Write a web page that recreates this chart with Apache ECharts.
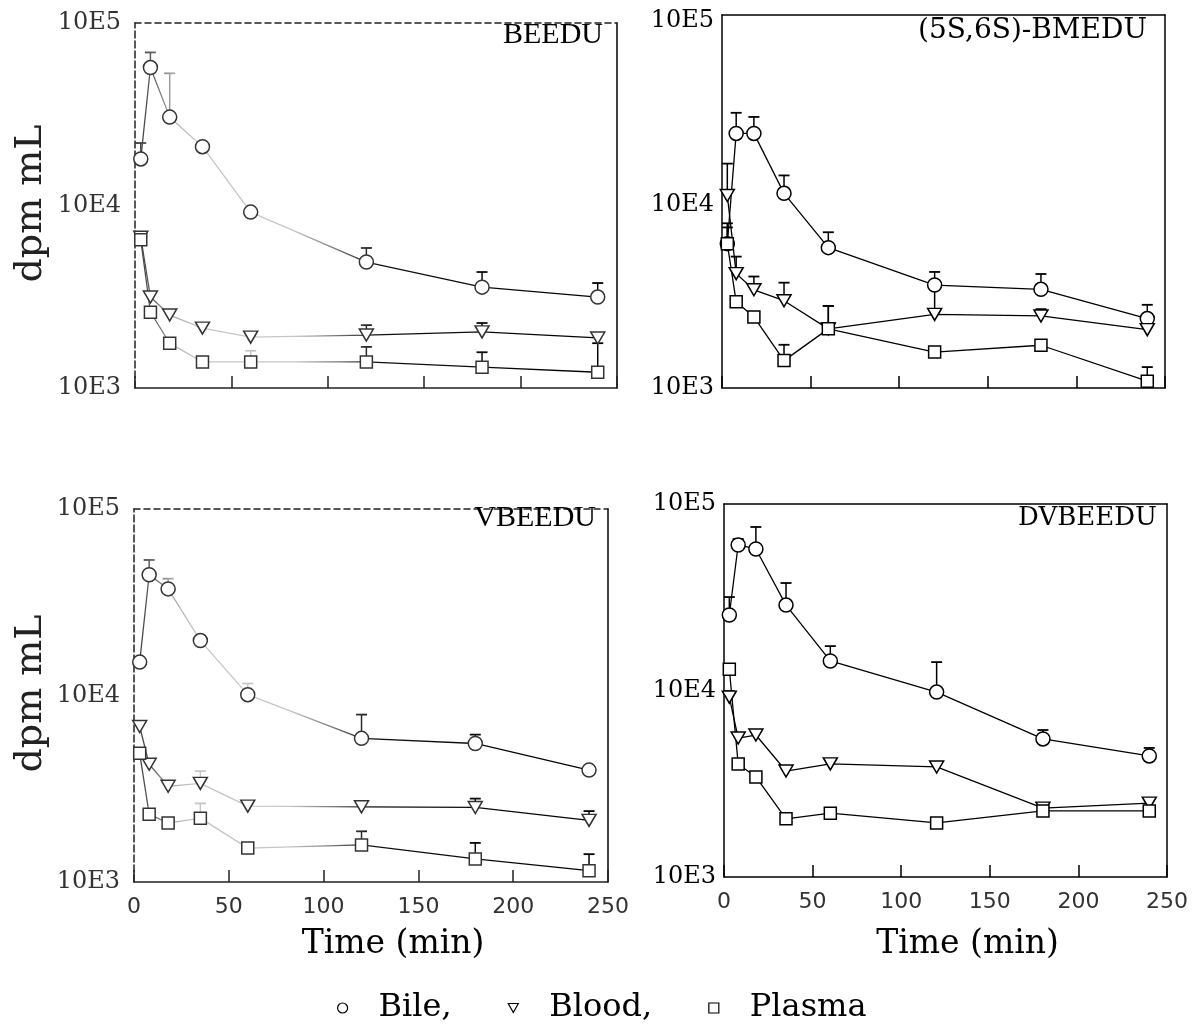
<!DOCTYPE html>
<html>
<head>
<meta charset="utf-8">
<script src="https://cdn.jsdelivr.net/npm/echarts@6/dist/echarts.min.js"></script>
<style>
  html, body { margin: 0; padding: 0; background: #fff; }
  #chart { width: 1199px; height: 1032px; }
</style>
</head>
<body>
<div id="chart"></div>
<script>
// Sampling times (min), shared by every panel
const TIMES = [3, 8, 18, 35, 60, 120, 180, 240];
const X_TICK_LABELS = ['0', '50', '100', '150', '200', '250'];
const Y_TICK_LABELS = { 3: '10E3', 4: '10E4', 5: '10E5' };
const GROUPS = ['Bile', 'Blood', 'Plasma'];

// BEEDU  (dpm/mL, mean and top of the error bar)
const beeduBile      = [18000, 57000, 30500, 21000, 9200, 4900, 3570, 3150];
const beeduBileErr   = [22000, 69000, 53000, null, null, 5850, 4320, 3760];
const beeduBlood     = [6700, 3150, 2510, 2130, 1900, 1950, 2030, 1880];
const beeduBloodErr  = [null, null, null, null, null, 2210, 2270, 2000];
const beeduPlasma    = [6500, 2600, 1760, 1390, 1390, 1390, 1300, 1220];
const beeduPlasmaErr = [null, null, null, null, 1600, 1680, 1570, 1760];

// (5S,6S)-BMEDU
const bmeduBile      = [6120, 24400, 24400, 11500, 5820, 3640, 3450, 2390];
const bmeduBileErr   = [7900, 31600, 30000, 14400, 7060, 4290, 4180, 2840];
const bmeduBlood     = [11200, 4200, 3430, 2990, 2100, 2520, 2470, 2080];
const bmeduBloodErr  = [16700, 5200, 4050, 3750, 2800, 3500, 2690, null];
const bmeduPlasma    = [6120, 2950, 2440, 1410, 2100, 1570, 1710, 1090];
const bmeduPlasmaErr = [7500, null, null, 1720, 2800, null, null, 1300];

// VBEEDU
const vbeeduBile      = [15100, 44400, 37300, 19700, 10100, 5890, 5530, 3980];
const vbeeduBileErr   = [null, 53300, 42300, null, 11600, 7900, 6170, null];
const vbeeduBlood     = [6820, 4280, 3260, 3380, 2550, 2530, 2510, 2140];
const vbeeduBloodErr  = [null, null, null, 3930, null, null, 2800, 2400];
const vbeeduPlasma    = [4900, 2310, 2070, 2200, 1520, 1580, 1330, 1150];
const vbeeduPlasmaErr = [null, null, null, 2640, null, 1870, 1620, 1410];

// DVBEEDU
const dvbeeduBile      = [25400, 60300, 57400, 28700, 14400, 9810, 5500, 4460];
const dvbeeduBileErr   = [31700, 64900, 75300, 37700, 17300, 14200, 6140, 4920];
const dvbeeduBlood     = [9220, 5560, 5770, 3700, 4040, 3890, 2340, 2490];
const dvbeeduBloodErr  = [9930, null, null, null, null, null, null, null];
const dvbeeduPlasma    = [13000, 4040, 3440, 2050, 2200, 1950, 2260, 2260];
const dvbeeduPlasmaErr = [null, null, null, null, null, null, null, null];

const SERIF = '"DejaVu Serif", "Liberation Serif", serif';
const SANS = '"DejaVu Sans", "Liberation Sans", sans-serif';

// faded print on the left-hand panels: strokes lighten over the early time range
function fadeStroke(x0, x1) {
  return new echarts.graphic.LinearGradient(x0, 0, x1, 0, [
    { offset: 0.00, color: '#333' },
    { offset: 0.04, color: '#666' },
    { offset: 0.08, color: '#aaa' },
    { offset: 0.12, color: '#c6c6c6' },
    { offset: 0.33, color: '#c6c6c6' },
    { offset: 0.42, color: '#777' },
    { offset: 0.50, color: '#111' },
    { offset: 1.00, color: '#000' }
  ], true);
}

const panels = [
  { title: 'BEEDU', box: { left: 135, top: 23, width: 482, height: 365 }, yMax: 100000,
    faded: true, xLabels: false, yTitle: true,
    titlePos: { right: 1199 - 603, top: 20 }, titleFont: '"Liberation Serif", serif', titleSize: 30,
    values: [beeduBile, beeduBlood, beeduPlasma], errs: [beeduBileErr, beeduBloodErr, beeduPlasmaErr] },
  { title: '(5S,6S)-BMEDU', box: { left: 722, top: 15, width: 443, height: 373 }, yMax: 107800,
    faded: false, xLabels: false, yTitle: false,
    titlePos: { right: 1199 - 1147, top: 17 }, titleFont: SERIF, titleSize: 28,
    values: [bmeduBile, bmeduBlood, bmeduPlasma], errs: [bmeduBileErr, bmeduBloodErr, bmeduPlasmaErr] },
  { title: 'VBEEDU', box: { left: 134, top: 509, width: 474, height: 373 }, yMax: 100000,
    faded: true, xLabels: true, yTitle: true,
    titlePos: { right: 1199 - 596, top: 503 }, titleFont: '"Liberation Serif", serif', titleSize: 30,
    values: [vbeeduBile, vbeeduBlood, vbeeduPlasma], errs: [vbeeduBileErr, vbeeduBloodErr, vbeeduPlasmaErr] },
  { title: 'DVBEEDU', box: { left: 724, top: 504, width: 443, height: 373 }, yMax: 100000,
    faded: false, xLabels: true, yTitle: false,
    titlePos: { right: 1199 - 1157, top: 505 }, titleFont: SERIF, titleSize: 26,
    values: [dvbeeduBile, dvbeeduBlood, dvbeeduPlasma], errs: [dvbeeduBileErr, dvbeeduBloodErr, dvbeeduPlasmaErr] }
];

const SYMBOLS = {
  Bile:   { symbol: 'circle', size: 14, rotate: 0 },
  Blood:  { symbol: 'triangle', size: [14, 12], rotate: 180 },
  Plasma: { symbol: 'rect', size: 12, rotate: 0 }
};

const grid = [], xAxis = [], yAxis = [], series = [], title = [], graphic = [];

panels.forEach((p, i) => {
  const stroke = p.faded ? fadeStroke(p.box.left, p.box.left + p.box.width) : '#000';
  const frameColor = p.faded ? '#222' : '#000';
  grid.push({ left: p.box.left, top: p.box.top, width: p.box.width, height: p.box.height, containLabel: false });

  // bottom time axis
  xAxis.push({
    gridIndex: i, type: 'value', min: 0, max: 250, interval: 50, position: 'bottom',
    axisLine: { show: true, onZero: false, lineStyle: { color: frameColor, width: 1.5 } },
    axisTick: { show: true, inside: true, length: 12, lineStyle: { color: frameColor, width: 1.5 } },
    axisLabel: {
      show: p.xLabels, margin: 14, fontFamily: SANS, fontSize: 22, color: '#333',
      formatter: v => X_TICK_LABELS[Math.round(v / 50)]
    },
    splitLine: { show: false }
  });
  // top frame edge
  xAxis.push({
    gridIndex: i, type: 'value', min: 0, max: 250, position: 'top',
    axisLine: { show: true, onZero: false, lineStyle: { color: frameColor, width: 1.5, type: p.faded ? [6, 4] : 'solid' } },
    axisTick: { show: false }, axisLabel: { show: false }, splitLine: { show: false }
  });
  // left log axis
  yAxis.push({
    gridIndex: i, type: 'log', logBase: 10, min: 1000, max: p.yMax, position: 'left',
    axisLine: { show: true, onZero: false, lineStyle: { color: frameColor, width: 1.5, type: p.faded ? [7, 3] : 'solid' } },
    axisTick: { show: false },
    axisLabel: {
      margin: p.faded ? 14 : 8, fontFamily: SERIF, fontSize: 24, color: p.faded ? '#333' : '#000',
      formatter: v => {
        const e = Math.log10(v);
        return Math.abs(e - Math.round(e)) < 1e-6 ? (Y_TICK_LABELS[Math.round(e)] || '') : '';
      }
    },
    splitLine: { show: false }, minorTick: { show: false }
  });
  // right frame edge
  yAxis.push({
    gridIndex: i, type: 'log', min: 1000, max: p.yMax, position: 'right',
    axisLine: { show: true, onZero: false, lineStyle: { color: '#000', width: 1.5 } },
    axisTick: { show: false }, axisLabel: { show: false }, splitLine: { show: false }
  });

  GROUPS.forEach((g, gi) => {
    const vals = p.values[gi];
    const errs = p.errs[gi];
    const sym = SYMBOLS[g];
    // error bars (upper only)
    series.push({
      type: 'custom', xAxisIndex: 2 * i, yAxisIndex: 2 * i, silent: true, z: 2,
      data: TIMES.map((t, k) => errs[k] == null ? null : [t, vals[k], errs[k]]).filter(Boolean),
      renderItem: (params, api) => {
        const a = api.coord([api.value(0), api.value(1)]);
        const b = api.coord([api.value(0), api.value(2)]);
        return {
          type: 'group',
          children: [
            { type: 'line', shape: { x1: a[0], y1: a[1], x2: b[0], y2: b[1] }, style: { stroke: stroke, lineWidth: 1.5 } },
            { type: 'line', shape: { x1: b[0] - 5.5, y1: b[1], x2: b[0] + 5.5, y2: b[1] }, style: { stroke: stroke, lineWidth: 1.8 } }
          ]
        };
      }
    });
    // means
    series.push({
      type: 'line', name: g, xAxisIndex: 2 * i, yAxisIndex: 2 * i, z: 3,
      data: TIMES.map((t, k) => [t, vals[k]]),
      symbol: sym.symbol, symbolSize: sym.size, symbolRotate: sym.rotate, showAllSymbol: true,
      itemStyle: { color: '#fff', borderColor: stroke, borderWidth: 1.5 },
      lineStyle: { color: stroke, width: 1.3 },
      emphasis: { disabled: true }
    });
  });

  title.push({
    text: p.title, right: p.titlePos.right, top: p.titlePos.top, padding: 0,
    textStyle: { fontFamily: p.titleFont, fontSize: p.titleSize, fontWeight: 'normal', color: '#000' }
  });

  if (p.yTitle) {
    graphic.push({
      type: 'text', x: 31, y: p.box.top + p.box.height / 2 - 2, rotation: Math.PI / 2,
      style: { text: 'dpm mL', font: '38px ' + SERIF, fill: '#222', align: 'center', verticalAlign: 'middle' }
    });
  }
  if (p.xLabels) {
    graphic.push({
      type: 'text', x: p.box.left + p.box.width / 2 + 22, y: 944,
      style: { text: 'Time (min)', font: '33px ' + SERIF, fill: '#000', align: 'center', verticalAlign: 'middle' }
    });
  }
});

const chart = echarts.init(document.getElementById('chart'), null, { renderer: 'canvas' });
chart.setOption({
  animation: false,
  backgroundColor: '#fff',
  title: title,
  grid: grid,
  xAxis: xAxis,
  yAxis: yAxis,
  series: series,
  graphic: graphic,
  legend: {
    left: 332, top: 987, orient: 'horizontal', itemGap: 56, itemWidth: 10, itemHeight: 10,
    data: [
      { name: 'Bile', icon: 'circle' },
      { name: 'Blood', icon: 'path://M0,0L10,0L5,9Z' },
      { name: 'Plasma', icon: 'rect' }
    ],
    formatter: n => n === 'Plasma' ? n : n + ',',
    itemStyle: { color: '#fff', borderColor: '#000', borderWidth: 1.2 },
    textStyle: { fontFamily: SERIF, fontSize: 32, color: '#000', padding: [0, 0, 0, 26] },
    selectedMode: false
  }
});
</script>
</body>
</html>
